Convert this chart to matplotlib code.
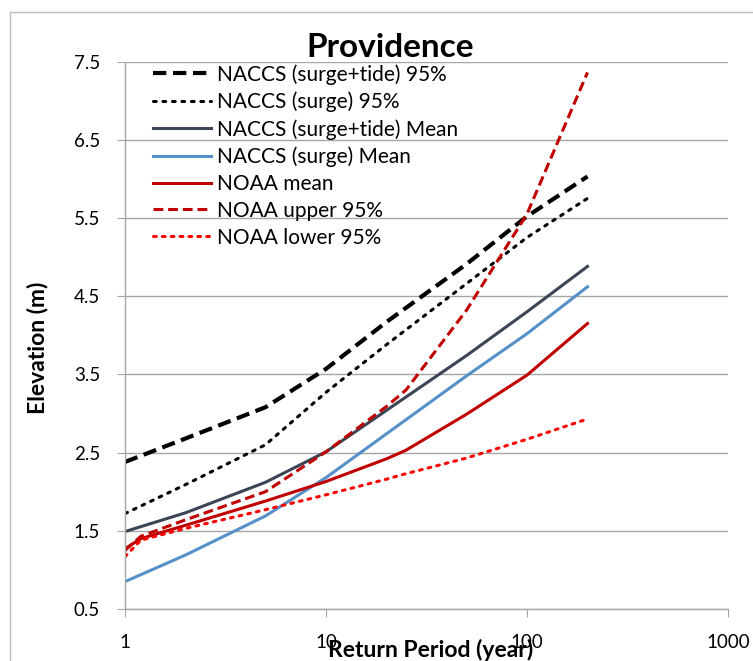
import matplotlib
matplotlib.use("Agg")
import matplotlib.pyplot as plt
from matplotlib.lines import Line2D
from matplotlib.ticker import FixedLocator, NullLocator, FixedFormatter

# ---- data ----
naccs_T = [1, 2, 5, 10, 20, 50, 100, 200]
noaa_T = [1, 1.2, 2, 5, 10, 20, 25, 50, 100, 200]

naccs_st95 = [2.38, 2.68, 3.08, 3.57, 4.17, 4.91, 5.52, 6.03]
naccs_s95 = [1.72, 2.09, 2.60, 3.27, 3.88, 4.66, 5.25, 5.75]
naccs_st_mean = [1.49, 1.73, 2.12, 2.51, 3.04, 3.74, 4.30, 4.88]
naccs_s_mean = [0.85, 1.19, 1.69, 2.18, 2.74, 3.48, 4.02, 4.62]
noaa_mean = [1.27, 1.40, 1.57, 1.88, 2.13, 2.42, 2.53, 2.99, 3.49, 4.15]
noaa_upper = [1.25, 1.43, 1.64, 2.00, 2.51, 3.09, 3.30, 4.32, 5.55, 7.36]
noaa_lower = [1.17, 1.38, 1.53, 1.77, 1.96, 2.16, 2.23, 2.43, 2.67, 2.93]

labels = ["NACCS (surge+tide) 95%", "NACCS (surge) 95%", "NACCS (surge+tide) Mean",
          "NACCS (surge) Mean", "NOAA mean", "NOAA upper 95%", "NOAA lower 95%"]
yticks = [0.5, 1.5, 2.5, 3.5, 4.5, 5.5, 6.5, 7.5]
xticks = [1, 10, 100, 1000]
xticklabels = ["1", "10", "100", "1000"]

plt.rcParams['font.family'] = ['Lato', 'DejaVu Sans']

W, H = 753, 661
fig = plt.figure(figsize=(W / 100, H / 100), dpi=100)
L, R, B, T = 125, 728, 609, 61.5
ax = fig.add_axes([L / W, 1 - B / H, (R - L) / W, (B - T) / H])

grid_c = '#A6A6A6'
ax.set_xscale('log')
ax.set_xlim(1, 1000)
ax.set_ylim(0.5, 7.5)
ax.yaxis.set_major_locator(FixedLocator(yticks))
ax.set_yticklabels([f"{v:.1f}" for v in yticks])
ax.xaxis.set_major_locator(FixedLocator(xticks))
ax.xaxis.set_major_formatter(FixedFormatter(xticklabels))
ax.xaxis.set_minor_locator(NullLocator())
ax.grid(axis='y', color=grid_c, linewidth=1.0)
ax.set_axisbelow(True)
for s in ['top', 'right']:
    ax.spines[s].set_visible(False)
for s in ['left', 'bottom']:
    ax.spines[s].set_color(grid_c)
    ax.spines[s].set_linewidth(1.0)
ax.tick_params(axis='y', direction='out', length=6, color=grid_c, pad=12, labelsize=13.5)
ax.tick_params(axis='x', direction='out', length=6, color=grid_c, pad=12, labelsize=13.5)

ax.plot(naccs_T, naccs_st95, color='black', lw=3.0, dashes=(3.2, 1.6), label=labels[0])
ax.plot(naccs_T, naccs_s95, color='black', lw=2.2, dashes=(0.9, 2.2), dash_capstyle='round', label=labels[1])
ax.plot(naccs_T, naccs_st_mean, color='#3B4556', lw=2.2, label=labels[2])
ax.plot(naccs_T, naccs_s_mean, color='#5590C8', lw=2.2, label=labels[3])
ax.plot(noaa_T, noaa_mean, color='#C00000', lw=2.2, label=labels[4])
ax.plot(noaa_T, noaa_upper, color='#C00000', lw=2.2, dashes=(3.2, 1.6), label=labels[5])
ax.plot(noaa_T, noaa_lower, color='#FF0000', lw=2.2, dashes=(0.9, 2.0), dash_capstyle='round', label=labels[6])

leg = ax.legend(loc='upper left', bbox_to_anchor=((153 - L) / (R - L), 1 - (64 - T) / (B - T)),
                frameon=False, fontsize=15, handlelength=2.8, handletextpad=0.27,
                labelspacing=0.33, borderpad=0.0, borderaxespad=0.0)

fig.text(390 / W, 1 - 57 / H, "Providence", ha='center', va='baseline', fontsize=24, fontweight='bold')
fig.text(37 / W, 1 - 348 / H, "Elevation (m)", ha='center', va='center', rotation=90,
         fontsize=16.5, fontweight='bold')
fig.text(431 / W, 1 - 657 / H, "Return Period (year)", ha='center', va='baseline',
         fontsize=16.5, fontweight='bold')

# outer chart border
fig.add_artist(Line2D([10 / W, 10 / W], [0, 1 - 12 / H], transform=fig.transFigure, color='#BFBFBF', lw=1))
fig.add_artist(Line2D([10 / W, 1], [1 - 12 / H, 1 - 12 / H], transform=fig.transFigure, color='#BFBFBF', lw=1))

fig.savefig("out.png", dpi=100)
